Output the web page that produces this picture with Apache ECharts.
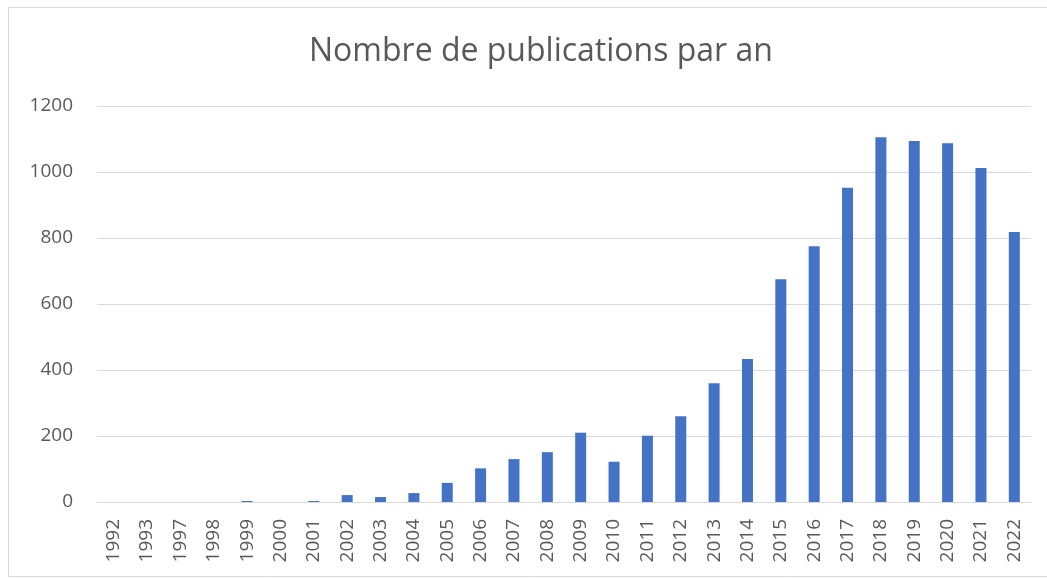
<!DOCTYPE html>
<html>
<head>
<meta charset="utf-8">
<script src="https://cdn.jsdelivr.net/npm/echarts@6/dist/echarts.min.js"></script>
<style>
  html, body { margin: 0; padding: 0; background: #fff; }
  #chart { width: 1047px; height: 578px; }
</style>
</head>
<body>
<div id="chart"></div>
<script>
// annees (categories)
var years = ['1992', '1993', '1997', '1998', '1999', '2000', '2001', '2002', '2003', '2004',
  '2005', '2006', '2007', '2008', '2009', '2010', '2011', '2012', '2013', '2014',
  '2015', '2016', '2017', '2018', '2019', '2020', '2021', '2022'];
// nombre de publications
var publications = [0, 0, 0, 0, 3, 0, 3, 21, 15, 27,
  58, 102, 130, 151, 210, 122, 201, 260, 360, 433,
  675, 775, 952, 1105, 1094, 1087, 1012, 818];

var textColor = '#595959';
var lineColor = '#d9d9d9';

var myChart = echarts.init(document.getElementById('chart'));
var option = {
    animation: false,
    title: {
        text: 'Nombre de publications par an',
        left: 304,
        top: 31,
        textStyle: {
            fontFamily: 'Open Sans',
            fontSize: 32,
            fontWeight: 'normal',
            color: textColor
        }
    },
    //cadre du graphique
    graphic: [{
        type: 'rect',
        shape: { x: 8.5, y: 7.5, width: 1060, height: 569 },
        style: { fill: 'none', stroke: lineColor, lineWidth: 1 },
        silent: true
    }],
    grid: {
        left: 97,
        right: 16,
        top: 106,
        bottom: 76
    },
    xAxis: {
        type: 'category',
        data: years,
        axisLine: { lineStyle: { color: lineColor, width: 1 } },
        axisTick: { show: false },
        axisLabel: {
            rotate: 90,
            interval: 0,
            margin: 17,
            fontFamily: 'Open Sans',
            fontSize: 19,
            color: textColor
        }
    },
    yAxis: {
        type: 'value',
        min: 0,
        max: 1200,
        interval: 200,
        axisLine: { show: false },
        axisTick: { show: false },
        splitLine: { lineStyle: { color: lineColor, width: 1 } },
        axisLabel: {
            margin: 24,
            fontFamily: 'Open Sans',
            fontSize: 19,
            color: textColor,
            formatter: function (v) { return String(v); }
        }
    },
    series: [{
        name: 'Publications',
        type: 'bar',
        data: publications,
        barWidth: 11,
        itemStyle: { color: '#4472C4' }
    }]
};
myChart.setOption(option);
</script>
</body>
</html>
